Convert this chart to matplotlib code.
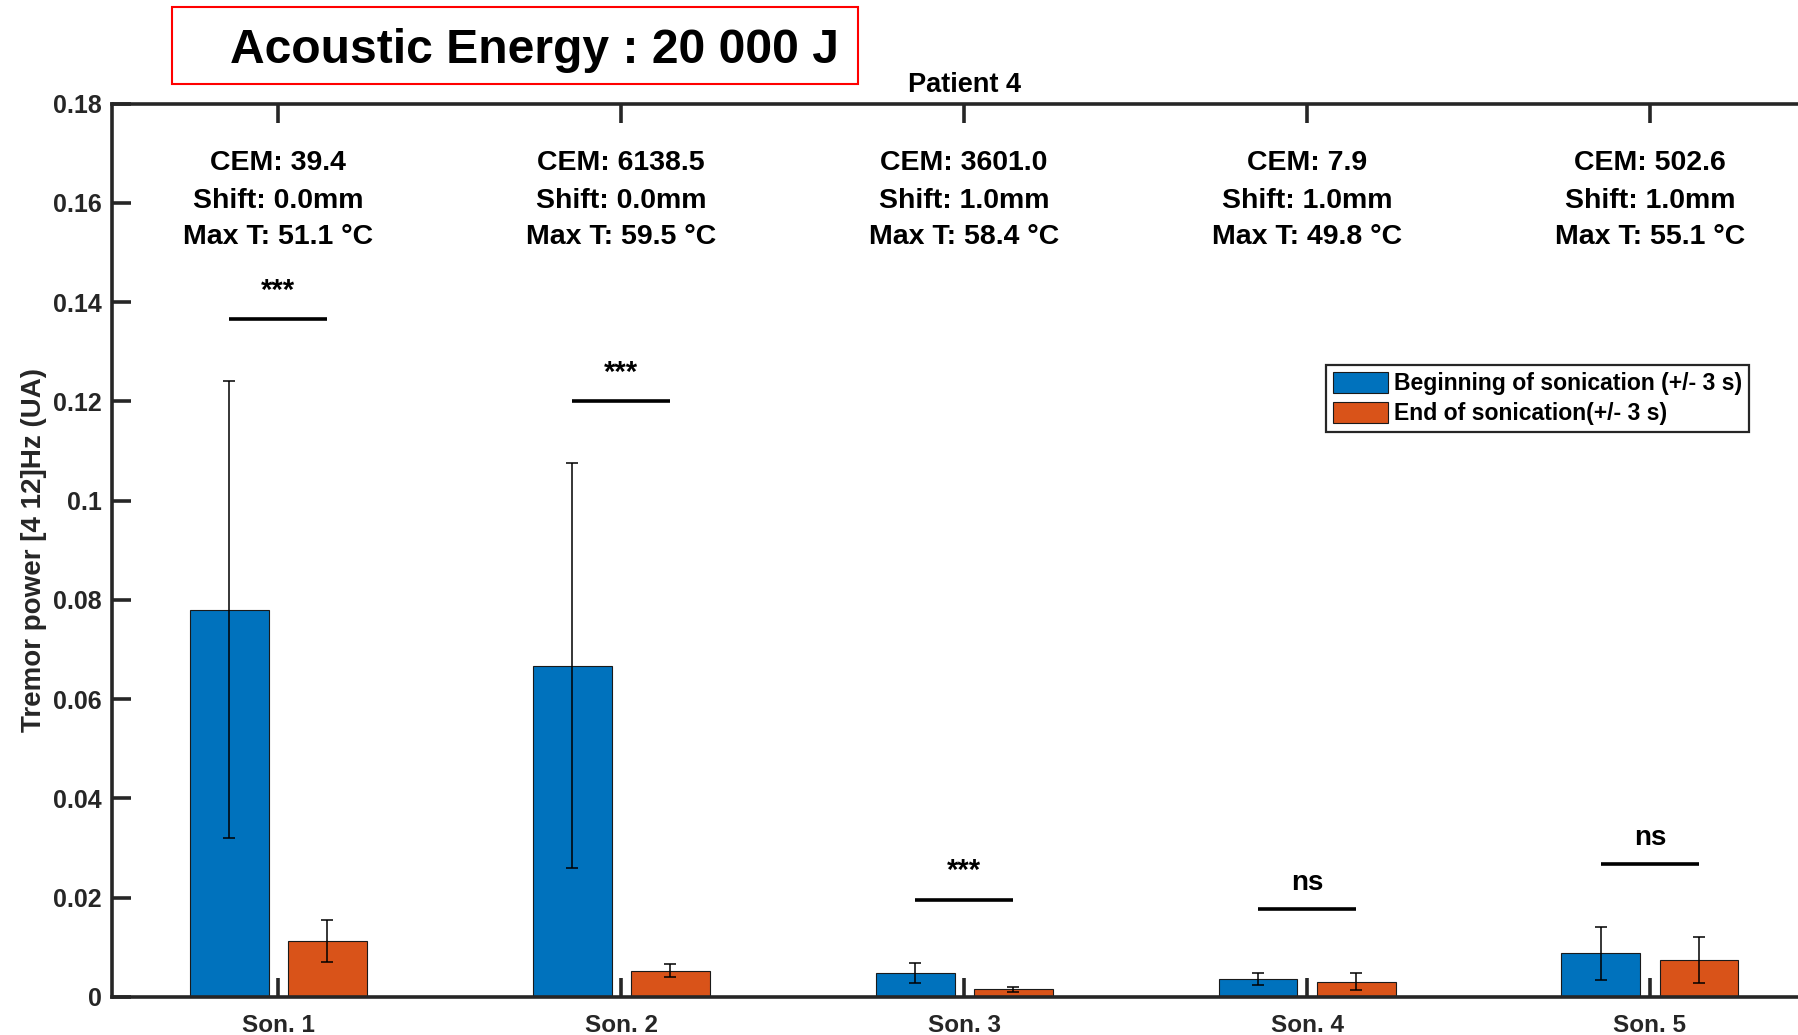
import matplotlib as mpl
import matplotlib.pyplot as plt
from matplotlib.patches import Rectangle
import numpy as np

mpl.use('Agg')

plt.rcParams['font.family'] = ['Liberation Sans', 'DejaVu Sans']
plt.rcParams['font.weight'] = 'bold'

sonications = ['Son. 1', 'Son. 2', 'Son. 3', 'Son. 4', 'Son. 5']
debut_moy = [0.0780, 0.0667, 0.0048, 0.0037, 0.0088]
debut_err = [0.0460, 0.0408, 0.0020, 0.0012, 0.0053]
fin_moy = [0.0113, 0.0053, 0.0016, 0.0031, 0.0075]
fin_err = [0.0042, 0.0013, 0.0005, 0.0017, 0.0046]
niveau_sig = [0.1365, 0.1200, 0.0195, 0.0177, 0.0267]
label_sig = ['***', '***', '***', 'ns', 'ns']
cem = ['39.4', '6138.5', '3601.0', '7.9', '502.6']
decalage = ['0.0', '0.0', '1.0', '1.0', '1.0']
temp_max = ['51.1', '59.5', '58.4', '49.8', '55.1']
yticks = [0, 0.02, 0.04, 0.06, 0.08, 0.1, 0.12, 0.14, 0.16, 0.18]
ytick_labels = ['0', '0.02', '0.04', '0.06', '0.08', '0.1', '0.12', '0.14', '0.16', '0.18']

gris = '#262626'
bleu = '#0072BD'
orange = '#D95319'

W, H = 1798, 1035
fig = plt.figure(figsize=(W / 100, H / 100), dpi=100)
ax = fig.add_axes([111.7 / W, (H - 997) / H, (1816.6 - 111.7) / W, (997 - 103.5) / H])

x = np.arange(1, len(sonications) + 1)
dx = 0.143
larg = 0.23

ax.bar(x - dx, debut_moy, larg, color=bleu, edgecolor='#1a1a1a', linewidth=0.8,
       label='Beginning of sonication (+/- 3 s)', zorder=2)
ax.bar(x + dx, fin_moy, larg, color=orange, edgecolor='#1a1a1a', linewidth=0.8,
       label='End of sonication(+/- 3 s)', zorder=2)
ax.errorbar(x - dx, debut_moy, yerr=debut_err, fmt='none', ecolor='black',
            elinewidth=1.1, capsize=4, capthick=1.1, zorder=3)
ax.errorbar(x + dx, fin_moy, yerr=fin_err, fmt='none', ecolor='black',
            elinewidth=1.1, capsize=4, capthick=1.1, zorder=3)

for i in range(len(sonications)):
    xi = x[i]
    ax.plot([xi - dx, xi + dx], [niveau_sig[i], niveau_sig[i]], color='black',
            lw=2.6, solid_capstyle='butt', zorder=3)
    if label_sig[i] == 'ns':
        ax.annotate(label_sig[i], (xi, niveau_sig[i]), xytext=(0, 14), textcoords='offset points',
                    ha='center', va='baseline', fontsize=20, fontweight='bold', color='black')
    else:
        ax.annotate(label_sig[i], (xi, niveau_sig[i]), xytext=(0, 15), textcoords='offset points',
                    ha='center', va='baseline', fontsize=21, fontweight='bold', color='black')
    ax.text(xi, 0.1666, 'CEM: ' + cem[i], ha='center', va='baseline', fontsize=20.5,
            fontweight='bold', color='black')
    ax.text(xi, 0.1590, 'Shift: ' + decalage[i] + 'mm', ha='center', va='baseline', fontsize=20.5,
            fontweight='bold', color='black')
    ax.text(xi, 0.1516, 'Max T: ' + temp_max[i] + ' °C', ha='center', va='baseline', fontsize=20.5,
            fontweight='bold', color='black')

ax.set_xlim(0.514, 5.486)
ax.set_ylim(0, 0.18)
ax.set_xticks(x)
ax.set_xticklabels(sonications)
ax.set_yticks(yticks)
ax.set_yticklabels(ytick_labels)

for s in ax.spines.values():
    s.set_color(gris)
    s.set_linewidth(2.6)
ax.tick_params(axis='both', direction='in', length=14, width=2.6, color=gris,
               labelcolor=gris, top=True, right=True)
ax.tick_params(axis='x', pad=12, labelsize=17.5)
ax.tick_params(axis='y', pad=7, labelsize=18)
for lab in ax.get_xticklabels() + ax.get_yticklabels():
    lab.set_fontweight('bold')

ax.set_ylabel('Tremor power [4 12]Hz (UA)', fontsize=20, fontweight='bold', color=gris)
ax.yaxis.set_label_coords(-0.0378, 0.5)
ax.set_title('Patient 4', fontsize=19.5, fontweight='bold', color='black', pad=8)

leg = ax.legend(loc='upper right', bbox_to_anchor=(0.9603, 0.7073), borderaxespad=0,
                fontsize=16.6, handlelength=2.4, handleheight=1.0, handletextpad=0.25,
                labelspacing=0.3, borderpad=0.3, fancybox=False, framealpha=1)
leg.get_frame().set_edgecolor(gris)
leg.get_frame().set_linewidth(1.6)
for t in leg.get_texts():
    t.set_fontweight('bold')
    t.set_color('black')

# encadre rouge du titre
fig.patches.append(Rectangle((172 / W, 1 - 84 / H), 686 / W, 77 / H, transform=fig.transFigure,
                             fill=False, edgecolor='red', linewidth=1.5))
fig.text(230 / W, 1 - 63.3 / H, 'Acoustic Energy : 20 000 J', fontsize=34.6,
         fontweight='bold', ha='left', va='baseline', color='black')

plt.savefig('out.png', dpi=100)
